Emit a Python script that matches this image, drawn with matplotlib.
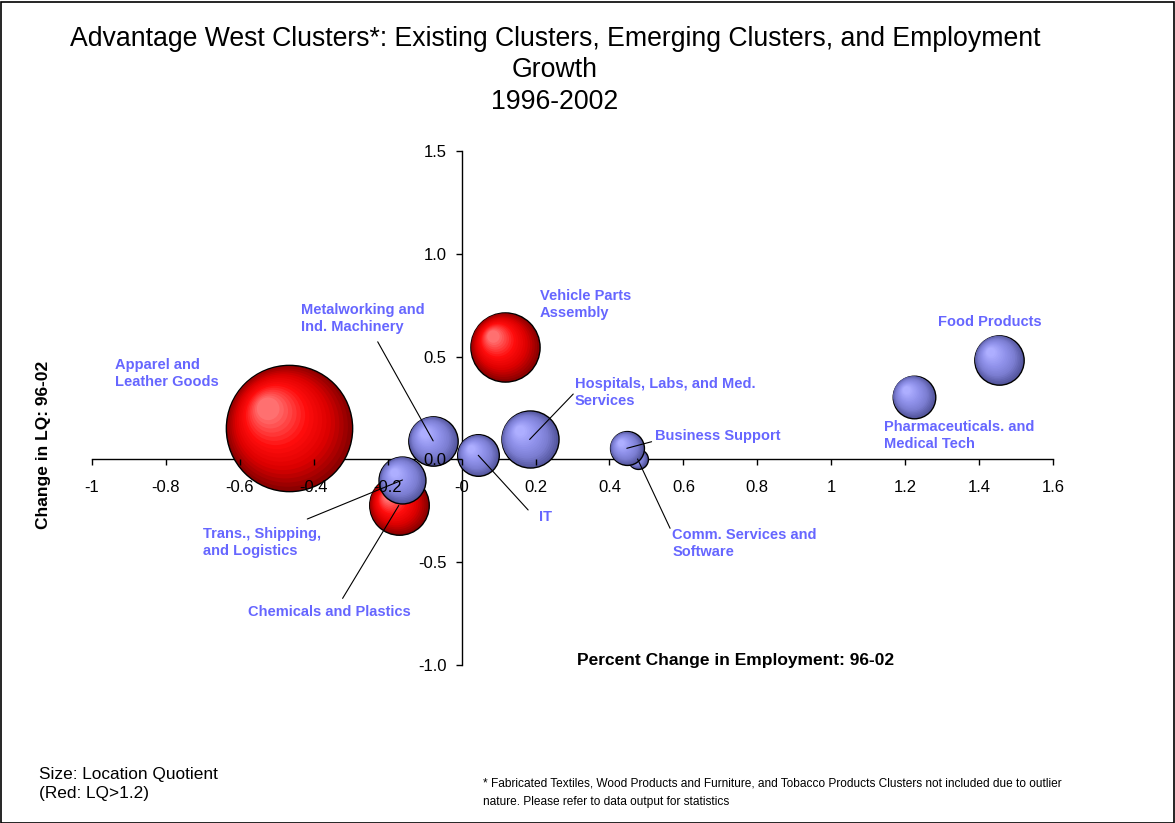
import numpy as np
import matplotlib
matplotlib.use('Agg')
import matplotlib.pyplot as plt
from matplotlib.colors import LinearSegmentedColormap
from matplotlib.transforms import offset_copy
from matplotlib.patches import Rectangle

plt.rcParams['font.family'] = ['Liberation Sans', 'DejaVu Sans']

# cluster data (drawing order = back to front)
clusters = ['Apparel and\nLeather Goods', 'Vehicle Parts\nAssembly', 'Chemicals and Plastics',
            'Comm. Services and\nSoftware', 'Hospitals, Labs, and Med.\nServices', 'IT',
            'Metalworking and\nInd. Machinery', 'Trans., Shipping,\nand Logistics',
            'Business Support', 'Pharmaceuticals. and\nMedical Tech', 'Food Products']
emp_change = [-0.467, 0.117, -0.170, 0.476, 0.184, 0.045, -0.077, -0.160, 0.447, 1.223, 1.454]
lq_change = [0.154, 0.547, -0.224, 0.002, 0.097, 0.020, 0.090, -0.100, 0.054, 0.305, 0.485]
location_quotient = [2.61, 1.43, 1.23, 0.41, 1.18, 0.86, 1.02, 0.97, 0.70, 0.88, 1.02]

# label placement (data coords, top-left of text) and leader start points
label_pos = [(-0.9375, 0.494), (0.212, 0.829), (-0.579, -0.708), (0.570, -0.333),
             (0.307, 0.402), (0.210, -0.246), (-0.4345, 0.761), (-0.699, -0.328),
             (0.523, 0.148), (1.1437, 0.192), (1.288, 0.703)]
leader_from = [None, None, (-0.322, -0.676), (0.564, -0.335), (0.302, 0.318),
               (0.180, -0.246), (-0.227, 0.572), (-0.4175, -0.290), (0.514, 0.086),
               None, None]

red_cmap = LinearSegmentedColormap.from_list(
    'r', [(0, '#8c0000'), (0.3, '#dd0000'), (0.6, '#ff0d0d'), (1, '#ff7070')])
blue_cmap = LinearSegmentedColormap.from_list(
    'b', [(0, '#55579f'), (0.3, '#7c7ed2'), (0.6, '#8f91ea'), (1, '#adaeff')])
label_color = '#6666ff'

fig = plt.figure(figsize=(11.75, 8.23), dpi=100)
ax = fig.add_axes([92 / 1175, 1 - 665 / 823, (1053 - 92) / 1175, (665 - 151) / 823])
ax.set_xlim(-1, 1.6)
ax.set_ylim(-1, 1.5)


def draw_bubble(x, y, r_pt, cmap, z):
    n = 18
    for i in range(n):
        t = i / (n - 1)
        rr = r_pt * (1 - 0.82 * t)
        tr = offset_copy(ax.transData, fig=fig, x=-0.33 * r_pt * t, y=0.30 * r_pt * t, units='points')
        ax.scatter([x], [y], s=(2 * rr) ** 2, color=cmap(t), transform=tr,
                   edgecolors='black' if i == 0 else 'none',
                   linewidths=1.0 if i == 0 else 0, zorder=z + i * 0.001)


px_per_lq = 24.2
for k in range(len(clusters)):
    r_pt = px_per_lq * location_quotient[k] * 0.72
    cmap = red_cmap if location_quotient[k] > 1.2 else blue_cmap
    draw_bubble(emp_change[k], lq_change[k], r_pt, cmap, 3 + k * 0.1)

for k, name in enumerate(clusters):
    lx, ly = label_pos[k]
    ax.text(lx, ly, name, ha='left', va='top', color=label_color, fontsize=10.5,
            fontweight='bold', zorder=10, linespacing=1.3)
    if leader_from[k] is not None:
        ax.annotate('', xy=(emp_change[k], lq_change[k]), xytext=leader_from[k],
                    arrowprops=dict(arrowstyle='-', color='black', lw=0.8,
                                    shrinkA=0, shrinkB=0), zorder=9)

# axes crossing at origin
ax.spines['left'].set_position(('data', 0))
ax.spines['bottom'].set_position(('data', 0))
ax.spines['top'].set_visible(False)
ax.spines['right'].set_visible(False)
for sp in ['left', 'bottom']:
    ax.spines[sp].set_zorder(1)
    ax.spines[sp].set_linewidth(1.0)
ax.xaxis.set_zorder(8)
ax.yaxis.set_zorder(8)
ax.set_xticks(np.arange(-1, 1.61, 0.2))
ax.set_yticks(np.arange(-1, 1.51, 0.5))
ax.xaxis.set_major_formatter(plt.FuncFormatter(lambda v, p: '%g' % round(v, 1)))
ax.yaxis.set_major_formatter(plt.FuncFormatter(lambda v, p: '%.1f' % v))
ax.tick_params(axis='x', direction='out', length=4, width=1, labelsize=12, pad=11)
ax.tick_params(axis='y', direction='out', length=4, width=1, labelsize=12, pad=7)
ax.patch.set_visible(False)

# titles and annotations
fig.text(555 / 1175, 1 - 26 / 823,
         'Advantage West Clusters*: Existing Clusters, Emerging Clusters, and Employment\nGrowth\n1996-2002',
         ha='center', va='top', fontsize=19.2, linespacing=1.27)
fig.text(44 / 1175, 1 - 445 / 823, 'Change in LQ: 96-02', rotation=90, ha='center', va='center',
         fontsize=12.5, fontweight='bold')
fig.text(736 / 1175, 1 - 660 / 823, 'Percent Change in Employment: 96-02', ha='center', va='center',
         fontsize=12.5, fontweight='bold')
fig.text(39 / 1175, 1 - 767 / 823, 'Size: Location Quotient\n(Red: LQ>1.2)', ha='left', va='top',
         fontsize=12.4, linespacing=1.36)
fig.text(483 / 1175, 1 - 777 / 823,
         '* Fabricated Textiles, Wood Products and Furniture, and Tobacco Products Clusters not included due to outlier\n'
         'nature. Please refer to data output for statistics',
         ha='left', va='top', fontsize=8.6, linespacing=1.8)

fig.patches.append(Rectangle((0.5 / 1175, 0.5 / 823), 1 - 2 / 1175, 1 - 2 / 823, transform=fig.transFigure,
                             fill=False, edgecolor='black', lw=1.2))

fig.savefig('out.png', dpi=100)
